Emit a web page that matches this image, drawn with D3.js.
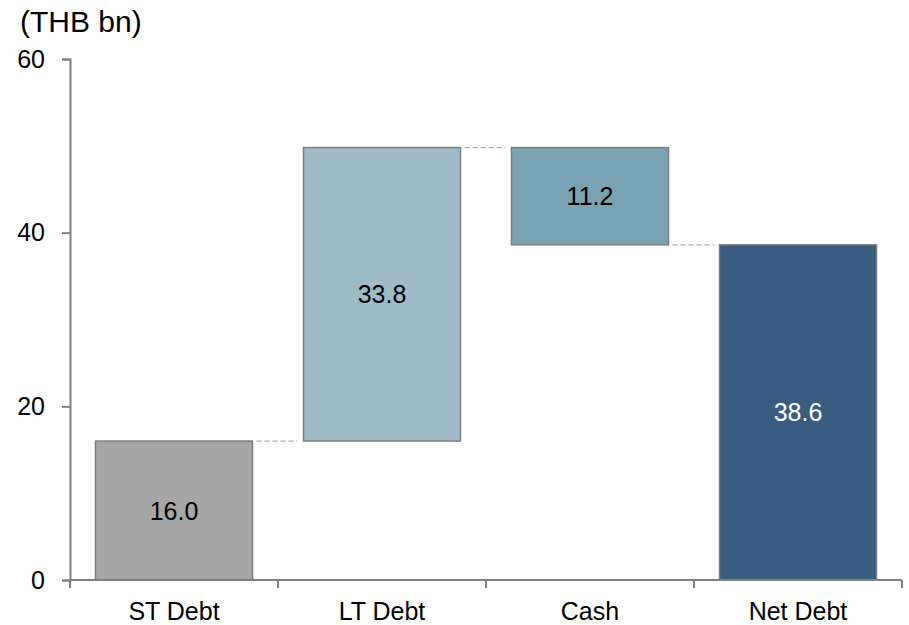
<!DOCTYPE html>
<html lang="en">
<head>
    <meta charset="UTF-8">
    <title>Net Debt Waterfall</title>
    <script src="https://d3js.org/d3.v7.min.js"></script>
    <style>
        body { margin: 0; background: #fff; }
        text { font-family: "Liberation Sans", Arial, sans-serif; }
    </style>
</head>
<body>
    <script>
        // data (THB bn)
        var categories = ["ST Debt", "LT Debt", "Cash", "Net Debt"];
        var starts = [0, 16.0, 38.6, 0];        // bar bottoms
        var values = [16.0, 33.8, 11.2, 38.6];  // bar heights / labels
        var yTicks = [0, 20, 40, 60];
        var colors = ["#a6a6a6", "#9fbbc7", "#79a2b2", "#385d80"];
        var labelColors = ["#000", "#000", "#000", "#fff"];

        var w = 909, h = 625;
        var plotLeft = 70, plotRight = 902, plotTop = 59, plotBottom = 580;

        var svg = d3.select("body")
                    .append("svg")
                    .attr("width", w)
                    .attr("height", h);

        var x = d3.scaleBand()
                  .domain(categories)
                  .range([plotLeft, plotRight])
                  .paddingInner(0.245)
                  .paddingOuter(0.1225);

        var y = d3.scaleLinear()
                  .domain([0, 60])
                  .range([plotBottom, plotTop]);

        // connector dashed lines between bars (level where the next bar picks up)
        var links = d3.range(categories.length - 1).map(function(i) {
            var level = i == 1 ? starts[i] + values[i] : (i == 0 ? values[0] : starts[i]);
            return { i: i, level: level };
        });

        svg.selectAll("line.link")
           .data(links)
           .join("line")
           .attr("class", "link")
           .attr("x1", d => x(categories[d.i]) + x.bandwidth() + 4)
           .attr("x2", d => x(categories[d.i + 1]) - 6)
           .attr("y1", d => y(d.level))
           .attr("y2", d => y(d.level))
           .attr("stroke", "#a6a6a6")
           .attr("stroke-width", 1.3)
           .attr("stroke-dasharray", "5,3");

        // bars
        svg.selectAll("rect.bar")
           .data(values)
           .join("rect")
           .attr("class", "bar")
           .attr("x", (d, i) => x(categories[i]))
           .attr("y", (d, i) => y(starts[i] + d))
           .attr("width", x.bandwidth())
           .attr("height", (d, i) => y(starts[i]) - y(starts[i] + d))
           .attr("fill", (d, i) => colors[i])
           .attr("stroke", "#7f7f7f")
           .attr("stroke-width", 1.5);

        // bar labels
        svg.selectAll("text.val")
           .data(values)
           .join("text")
           .attr("class", "val")
           .attr("x", (d, i) => x(categories[i]) + x.bandwidth() / 2)
           .attr("y", (d, i) => y(starts[i] + d / 2))
           .attr("dy", "0.36em")
           .attr("text-anchor", "middle")
           .attr("font-size", 25)
           .attr("fill", (d, i) => labelColors[i])
           .text(d => d.toFixed(1));

        // y axis
        var yAxis = svg.append("g")
                       .attr("transform", "translate(" + plotLeft + ",0)")
                       .call(d3.axisLeft(y).tickValues(yTicks).tickSize(8).tickPadding(17));
        yAxis.selectAll("path, line").attr("stroke", "#808080").attr("stroke-width", 2);
        yAxis.selectAll("text").attr("font-size", 25).attr("fill", "#000")
             .attr("font-family", "Liberation Sans, Arial, sans-serif");

        // x axis
        var xAxis = svg.append("g")
                       .attr("transform", "translate(0," + plotBottom + ")");
        xAxis.append("line")
             .attr("x1", plotLeft).attr("x2", plotRight)
             .attr("stroke", "#808080").attr("stroke-width", 2);
        var edges = categories.map(c => x(c) - x.step() * x.paddingInner() / 2);
        edges[0] = plotLeft;
        edges.push(plotRight);
        xAxis.selectAll("line.tick")
             .data(edges)
             .join("line")
             .attr("class", "tick")
             .attr("x1", d => d).attr("x2", d => d)
             .attr("y1", 0).attr("y2", 8)
             .attr("stroke", "#808080").attr("stroke-width", 2);
        xAxis.selectAll("text")
             .data(categories)
             .join("text")
             .attr("x", d => x(d) + x.bandwidth() / 2)
             .attr("y", 40)
             .attr("text-anchor", "middle")
             .attr("font-size", 25)
             .text(d => d);

        // unit title
        svg.append("text")
           .attr("x", 20)
           .attr("y", 32)
           .attr("font-size", 30)
           .text("(THB bn)");
    </script>
</body>
</html>
